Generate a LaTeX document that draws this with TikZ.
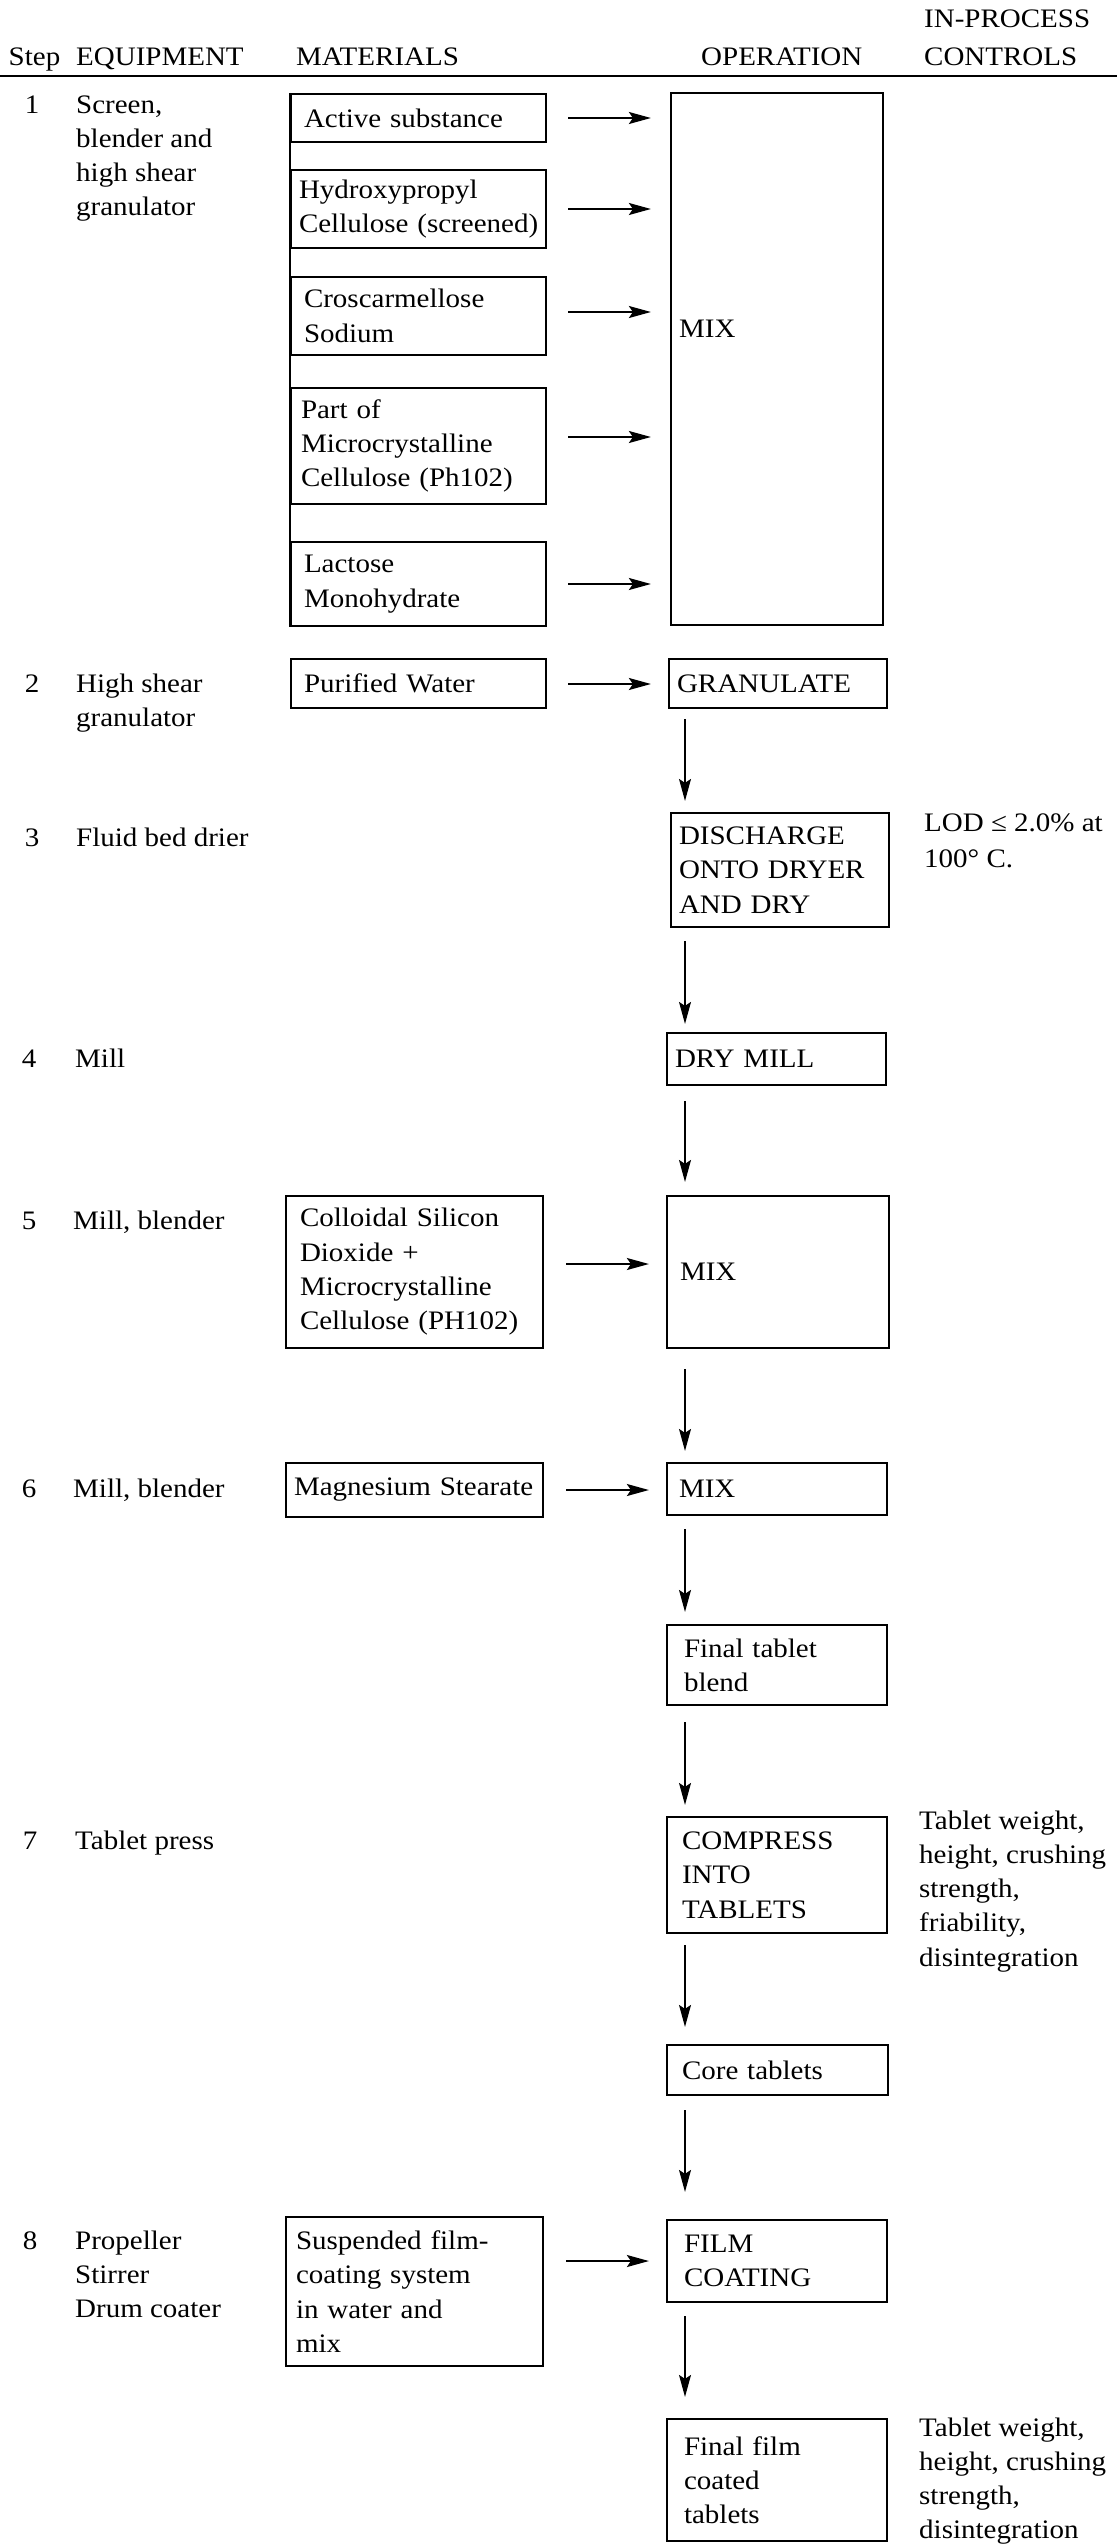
\documentclass[tikz,border=0pt]{standalone}
\usepackage{fontspec}
\setmainfont{Liberation Serif}[FakeStretch=1.086]
\usetikzlibrary{arrows.meta}
\newcommand\fs{\fontsize{26.7}{34.3}\selectfont}
\newcommand\bx[7]{%
  \pgfmathsetmacro\bw{#4-#2}\pgfmathsetmacro\bh{#5-#3}\pgfmathsetmacro\tw{#4-#2-2*#6}%
  \pgfmathsetmacro\cx{(#2+#4)/2}\pgfmathsetmacro\cy{(#3+#5)/2}%
  \node[box, inner xsep=#6pt, minimum width=\bw pt, minimum height=\bh pt, text width=\tw pt] (#1) at (\cx,\cy) {#7};}
\tikzset{
  txt/.style={font=\fs, inner sep=0pt, align=left},
  box/.style={draw, line width=2.2pt, font={\fs\hyphenpenalty=10000}, inner ysep=0pt, align=left},
  harrow/.style={line width=1.8pt, -{Stealth[length=22pt,width=12pt,inset=4pt]}},
  varrow/.style={line width=1.3pt, -{Stealth[length=22pt,width=12pt,inset=4pt]}},
  rule/.style={line width=2.2pt}
}
\begin{document}
\begin{tikzpicture}[x=1pt,y=-1pt]
\useasboundingbox (0,0) rectangle (1117,2546);
% header
\node[txt, anchor=base west] (hin) at (924,27) {IN-PROCESS};
\node[txt, anchor=base west] (hstep) at (8.5,65) {Step};
\node[txt, anchor=base west] (heq) at (76,65) {EQUIPMENT};
\node[txt, anchor=base west] (hmat) at (296,65) {MATERIALS};
\node[txt, anchor=base west] (hop) at (701,65) {OPERATION};
\node[txt, anchor=base west] (hctl) at (924,65) {CONTROLS};
\coordinate (r1) at (0,76);
\coordinate (r2) at (1117,76);
\draw[rule] (r1) -- (r2);
% steps
\node[txt, anchor=base] (s1) at (32,113) {1};
\node[txt, anchor=base] (s2) at (32,692) {2};
\node[txt, anchor=base] (s3) at (32,846) {3};
\node[txt, anchor=base] (s4) at (29,1067) {4};
\node[txt, anchor=base] (s5) at (29,1229) {5};
\node[txt, anchor=base] (s6) at (29,1497) {6};
\node[txt, anchor=base] (s7) at (30,1849) {7};
\node[txt, anchor=base] (s8) at (30,2249) {8};
% equipment
\node[txt, anchor=base west] (e1) at (76,113) {\begin{tabular}[t]{@{}l@{}}Screen,\\blender and\\high shear\\granulator\end{tabular}};
\node[txt, anchor=base west] (e2) at (76,692) {\begin{tabular}[t]{@{}l@{}}High shear\\granulator\end{tabular}};
\node[txt, anchor=base west] (e3) at (76,846) {Fluid bed drier};
\node[txt, anchor=base west] (e4) at (75,1067) {Mill};
\node[txt, anchor=base west] (e5) at (73,1229) {Mill, blender};
\node[txt, anchor=base west] (e6) at (73,1497) {Mill, blender};
\node[txt, anchor=base west] (e7) at (75,1849) {Tablet press};
\node[txt, anchor=base west] (e8) at (75,2249) {\begin{tabular}[t]{@{}l@{}}Propeller\\Stirrer\\Drum coater\end{tabular}};
% controls
\node[txt, anchor=base west] (c3) at (924,831) {\begin{tabular}[t]{@{}l@{}}LOD ≤ 2.0\% at\\[1.7pt]100° C.\end{tabular}};
\node[txt, anchor=base west] (c7) at (919,1829) {\begin{tabular}[t]{@{}l@{}}Tablet weight,\\height, crushing\\strength,\\friability,\\disintegration\end{tabular}};
\node[txt, anchor=base west] (c8) at (919,2436) {\begin{tabular}[t]{@{}l@{}}Tablet weight,\\height, crushing\\strength,\\disintegration\end{tabular}};
% materials
\bx{act}{291}{94}{546}{142}{13}{Active substance}
\bx{hpc}{291}{170}{546}{248}{8}{Hydroxypropyl\\Cellulose~(screened)}
\bx{ccs}{291}{277}{546}{355}{13}{Croscarmellose\\Sodium}
\bx{mcc}{291}{388}{546}{504}{10}{Part of\\Microcrystalline\\Cellulose (Ph102)}
\bx{lac}{291}{542}{546}{626}{13}{Lactose\\Monohydrate}
\bx{pw}{291}{659}{546}{708}{13}{Purified Water}
\bx{csd}{286}{1196}{543}{1348}{14}{Colloidal Silicon\\Dioxide +\\Microcrystalline\\Cellulose (PH102)}
\bx{mgs}{286}{1463}{543}{1517}{8}{Magnesium~Stearate}
\bx{sfc}{286}{2217}{543}{2366}{10}{Suspended film-\\coating system\\in water and\\mix}
\draw[rule] (act.north west) -- (lac.south west);
% operations
\bx{mixa}{671}{93}{883}{625}{8}{}
\node[txt, anchor=base west] (mixat) at (679,337) {MIX};
\bx{gran}{669}{659}{887}{708}{8}{GRANULATE}
\bx{disch}{671}{813}{889}{927}{8}{DISCHARGE\\ONTO DRYER\\AND DRY}
\bx{mill}{667}{1033}{886}{1085}{8}{DRY MILL}
\bx{mixb}{667}{1196}{889}{1348}{13}{MIX}
\bx{mixc}{667}{1463}{887}{1515}{12}{MIX}
\bx{ftb}{667}{1625}{887}{1705}{17}{Final tablet\\blend}
\bx{comp}{667}{1817}{887}{1933}{15}{COMPRESS\\INTO\\TABLETS}
\bx{core}{667}{2045}{888}{2095}{15}{Core tablets}
\bx{film}{667}{2220}{887}{2302}{17}{FILM\\COATING}
\bx{ffc}{667}{2419}{887}{2541}{17}{Final film\\coated\\tablets}
% horizontal arrows
\draw[harrow, shorten <=21pt, shorten >=19pt] (act.east) -- (act.east -| mixa.west);
\draw[harrow, shorten <=21pt, shorten >=19pt] (hpc.east) -- (hpc.east -| mixa.west);
\draw[harrow, shorten <=21pt, shorten >=19pt] ([yshift=4pt]ccs.east) -- ([yshift=4pt]ccs.east -| mixa.west);
\draw[harrow, shorten <=21pt, shorten >=19pt] ([yshift=9pt]mcc.east) -- ([yshift=9pt]mcc.east -| mixa.west);
\draw[harrow, shorten <=21pt, shorten >=19pt] (lac.east) -- (lac.east -| mixa.west);
\draw[harrow, shorten <=21pt, shorten >=17pt] ([yshift=-0.5pt]pw.east) -- ([yshift=-0.5pt]pw.east -| gran.west);
\draw[harrow, shorten <=22pt, shorten >=17pt] ([yshift=8pt]csd.east) -- ([yshift=8pt]csd.east -| mixb.west);
\draw[harrow, shorten <=22pt, shorten >=17pt] (mgs.east) -- (mgs.east -| mixc.west);
\draw[harrow, shorten <=22pt, shorten >=17pt] (sfc.east |- film.west) -- (film.west);
% vertical arrows
\coordinate (vx) at (685,0);
\draw[varrow, shorten <=10pt, shorten >=11pt] (gran.south -| vx) -- (disch.north -| vx);
\draw[varrow, shorten <=13pt, shorten >=8pt] (disch.south -| vx) -- (mill.north -| vx);
\draw[varrow, shorten <=15pt, shorten >=13pt] (mill.south -| vx) -- (mixb.north -| vx);
\draw[varrow, shorten <=20pt, shorten >=11pt] (mixb.south -| vx) -- (mixc.north -| vx);
\draw[varrow, shorten <=13pt, shorten >=12pt] (mixc.south -| vx) -- (ftb.north -| vx);
\draw[varrow, shorten <=16pt, shorten >=11pt] (ftb.south -| vx) -- (comp.north -| vx);
\draw[varrow, shorten <=11pt, shorten >=17pt] (comp.south -| vx) -- (core.north -| vx);
\draw[varrow, shorten <=14pt, shorten >=27pt] (core.south -| vx) -- (film.north -| vx);
\draw[varrow, shorten <=13pt, shorten >=21pt] (film.south -| vx) -- (ffc.north -| vx);
\end{tikzpicture}
\end{document}
